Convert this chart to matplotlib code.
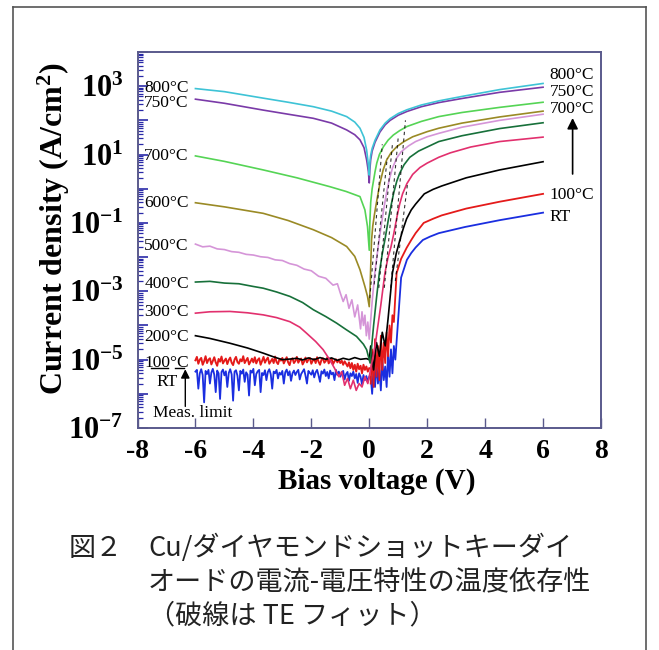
import numpy as np
import matplotlib
matplotlib.use('Agg')
import matplotlib.pyplot as plt
from matplotlib.lines import Line2D

plt.rcParams['font.family'] = ['Liberation Serif', 'DejaVu Serif']
plt.rcParams['mathtext.fontset'] = 'custom'
plt.rcParams['mathtext.rm'] = 'Liberation Serif'
plt.rcParams['mathtext.bf'] = 'Liberation Serif:bold'
plt.rcParams['mathtext.it'] = 'Liberation Serif:italic'
plt.rcParams['axes.unicode_minus'] = False

# ---------------- data (log10 of current density in A/cm^2) ----------------
V_800 = [-6, -5, -3.66, -2.8, -1.93, -1.3, -0.78, -0.5, -0.32, -0.18, -0.09, -0.03, 0.0,
         0.02, 0.05, 0.1, 0.2, 0.37, 0.55, 0.72, 1.0, 1.3, 1.8, 2.4, 3.2, 4.5, 6.0]
L_800 = [2.93, 2.84, 2.65, 2.53, 2.40, 2.27, 2.11, 1.95, 1.77, 1.50, 1.13, 0.70, 0.40,
         0.75, 0.98, 1.18, 1.42, 1.72, 1.92, 2.05, 2.20, 2.31, 2.45, 2.57, 2.70, 2.90, 3.08]
V_750 = V_800
L_750 = [2.62, 2.50, 2.30, 2.18, 2.06, 1.92, 1.72, 1.58, 1.43, 1.20, 0.84, 0.50, 0.17,
         0.55, 0.85, 1.10, 1.36, 1.66, 1.87, 2.00, 2.15, 2.26, 2.40, 2.52, 2.64, 2.82, 2.97]
V_700 = [-6, -5, -3.66, -2.5, -1.36, -0.8, -0.32, -0.15, -0.06, 0.0,
         0.02, 0.05, 0.1, 0.14, 0.2, 0.26, 0.35, 0.49, 0.65, 0.83, 1.05, 1.3, 1.8, 2.4, 3.2,
         4.5, 6.0]
L_700 = [0.96, 0.80, 0.55, 0.32, 0.06, -0.08, -0.23, -0.62, -1.11, -1.80,
         -1.00, -0.40, 0.00, 0.20, 0.50, 0.75, 1.00, 1.23, 1.42, 1.57, 1.70, 1.82, 1.97, 2.11,
         2.23, 2.38, 2.53]
V_600 = [-6, -5, -3.66, -2.8, -1.93, -1.3, -0.78, -0.5, -0.32, -0.15, -0.06, 0.0,
         0.03, 0.06, 0.08, 0.12, 0.18, 0.26, 0.37, 0.48, 0.6, 0.75, 0.95, 1.2, 1.5, 2.0, 2.4,
         3.2, 4.5, 6.0]
L_600 = [-0.41, -0.53, -0.72, -0.93, -1.20, -1.43, -1.69, -1.98, -2.37, -2.86, -3.15, -3.45,
         -2.90, -2.00, -1.50, -1.10, -0.75, -0.35, 0.16, 0.55, 0.84, 1.05, 1.23, 1.38, 1.52,
         1.67, 1.77, 1.92, 2.10, 2.27]
V_500 = [-6, -5.75, -5.5, -5.25, -5, -4.75, -4.5, -4.25, -4, -3.75, -3.5, -3.25, -3, -2.75,
         -2.5, -2.25, -2, -1.75, -1.5, -1.25, -1.1, -1.0, -0.9, -0.8, -0.7, -0.6, -0.5, -0.4,
         -0.3, -0.25, -0.2, -0.15, -0.1, -0.05, 0.0,
         0.1, 0.2, 0.3, 0.4, 0.5, 0.6, 0.7, 0.8, 0.95, 1.1, 1.35, 1.6, 2.0, 2.4, 3.2, 4.5, 6.0]
L_500 = [-1.62, -1.70, -1.68, -1.76, -1.78, -1.84, -1.86, -1.92, -1.94, -1.99, -2.01, -2.08,
         -2.10, -2.19, -2.24, -2.35, -2.40, -2.56, -2.62, -2.82, -2.78, -3.05, -3.30, -3.10,
         -3.50, -3.25, -3.75, -3.40, -4.10, -3.60, -4.00, -3.70, -4.30, -3.90, -4.40,
         -3.30, -2.40, -1.75, -1.15, -0.60, -0.10, 0.30, 0.60, 0.90, 1.08, 1.25, 1.38, 1.52,
         1.62, 1.80, 2.00, 2.18]
V_400 = [-6, -5.5, -5, -4.5, -4, -3.66, -3.2, -2.74, -2.3, -1.93, -1.5, -1.13, -0.8, -0.44,
         -0.2, -0.09, 0.03, 0.15, 0.25, 0.35, 0.45, 0.55, 0.65, 0.75, 0.85, 0.95, 1.05, 1.2,
         1.4, 1.7, 2.0, 2.4, 3.2, 4.5, 6.0]
L_400 = [-2.73, -2.71, -2.76, -2.78, -2.86, -2.91, -3.02, -3.15, -3.33, -3.54, -3.74, -3.93,
         -4.12, -4.32, -4.55, -4.71, -5.10, -4.00, -3.20, -2.45, -1.90, -1.45, -0.95, -0.50,
         -0.10, 0.22, 0.45, 0.70, 0.92, 1.10, 1.22, 1.38, 1.55, 1.76, 1.93]
V_300 = [-6, -5.5, -4.81, -4.2, -3.66, -3.2, -2.74, -2.4, -2.16, -1.85, -1.59, -1.36, -1.2,
         -1.05, -0.95, -0.85, -0.75, -0.65, -0.55, -0.45, -0.35, -0.25, -0.15, -0.05, 0.0,
         0.2, 0.4, 0.54, 0.65, 0.75, 0.85, 0.95, 1.05, 1.15, 1.3, 1.5, 1.75, 2.0, 2.4, 2.8,
         3.5, 4.5, 6.0]
L_300 = [-3.64, -3.60, -3.59, -3.63, -3.69, -3.77, -3.89, -4.05, -4.23, -4.47, -4.71, -5.01,
         -5.25, -5.50, -5.35, -5.75, -5.55, -5.85, -5.60, -5.90, -5.70, -5.80, -5.50, -5.70,
         -5.50, -4.60, -3.40, -2.47, -2.00, -1.70, -1.30, -0.85, -0.45, -0.15, 0.15, 0.42,
         0.62, 0.75, 0.92, 1.05, 1.22, 1.38, 1.51]
V_200 = [-6, -5.5, -4.81, -4.2, -3.66, -3.3, -3.0, -2.7, -2.5, -2.3, -2.1, -1.9, -1.7, -1.5,
         -1.3, -1.1, -0.9, -0.7, -0.5, -0.3, -0.1, 0.0, 0.05, 0.15, 0.25, 0.35, 0.45, 0.55,
         0.65, 0.8, 0.93, 1.06, 1.18, 1.29, 1.45, 1.6, 1.9, 2.2, 2.5, 3.35, 4.5, 6.0]
L_200 = [-4.30, -4.38, -4.52, -4.66, -4.81, -4.92, -5.00, -4.98, -4.96, -5.01, -4.95, -5.00,
         -4.94, -4.99, -4.95, -5.02, -4.96, -5.00, -4.94, -4.99, -4.97, -5.00, -4.60, -5.30,
         -4.50, -4.90, -4.20, -4.60, -3.80, -2.47, -1.90, -1.49, -1.15, -0.88, -0.62, -0.45,
         -0.15, -0.02, 0.08, 0.32, 0.55, 0.79]

# 100 C and RT: reverse-bias sweep (at the noise floor), then forward bias
L_100_rev = [-5.02, -4.92, -5.12, -5.00, -4.95, -5.15, -5.05, -4.90, -5.10, -5.00,
             -4.96, -5.14, -5.04, -4.93, -5.08, -5.18, -4.98, -5.06, -4.91, -5.11,
             -5.03, -4.97, -5.13, -5.01, -4.94, -5.09, -5.16, -5.00, -4.92, -5.07,
             -5.12, -4.99, -5.05, -4.90, -5.10, -5.02, -4.95, -5.14, -5.06, -4.97,
             -5.08, -4.93, -5.11, -5.01, -4.96, -5.15, -5.04, -4.92, -5.09, -5.00,
             -4.94, -5.12, -5.05, -4.98, -5.10, -4.91, -5.07, -5.13, -4.99, -5.03,
             -4.95, -5.11, -5.02, -4.93, -5.08, -5.16, -5.00, -4.96, -5.10, -5.04,
             -4.92, -5.09, -5.01, -4.97, -5.14, -5.06, -4.94, -5.08, -5.00, -4.95,
             -5.12, -5.03, -4.98, -5.10, -4.93, -5.06, -5.15, -5.01, -4.96, -5.09,
             -5.04, -4.94, -5.11, -5.02, -4.97, -5.13, -5.05, -4.99, -5.08, -5.00,
             -5.10, -5.03, -5.15, -5.05, -5.12, -5.20, -5.08, -5.25, -5.10, -5.30,
             -5.15, -5.35, -5.12, -5.28, -5.18, -5.40, -5.15, -5.30, -5.20, -5.35, -5.25]
L_RT_rev = [-5.35, -5.30, -5.85, -5.40, -5.28, -5.45, -6.25, -5.33, -5.42, -5.30,
            -5.70, -5.38, -5.27, -5.44, -5.95, -5.32, -5.40, -6.15, -5.36, -5.29,
            -5.46, -5.34, -5.80, -5.39, -5.28, -5.43, -6.20, -5.35, -5.31, -5.47,
            -5.90, -5.33, -5.41, -5.29, -5.65, -5.37, -5.44, -6.05, -5.32, -5.38,
            -5.27, -5.75, -5.42, -5.34, -5.30, -5.95, -5.39, -5.45, -5.31, -5.60,
            -5.36, -5.28, -5.43, -5.85, -5.35, -5.40, -5.30, -5.55, -5.38, -5.44,
            -5.33, -5.70, -5.37, -5.29, -5.46, -5.34, -5.62, -5.40, -5.32, -5.45,
            -5.36, -5.30, -5.58, -5.42, -5.35, -5.28, -5.47, -5.70, -5.33, -5.39,
            -5.44, -5.31, -5.52, -5.37, -5.30, -5.46, -5.65, -5.34, -5.41, -5.29,
            -5.48, -5.36, -5.55, -5.32, -5.43, -5.38, -5.60, -5.30, -5.45, -5.35,
            -5.50, -5.40, -5.33, -5.58, -5.42, -5.36, -5.62, -5.40, -5.48, -5.35,
            -5.55, -5.42, -5.68, -5.40, -5.50, -5.72, -5.45, -5.60, -5.48, -5.65, -5.50]
V_100_rev = np.linspace(-6.0, 0.0, len(L_100_rev))
V_RT_rev = np.linspace(-6.0, 0.0, len(L_RT_rev))
V_100_fwd = [0.05, 0.1, 0.15, 0.2, 0.25, 0.3, 0.35, 0.4, 0.45, 0.5, 0.55, 0.6, 0.65, 0.7,
             0.75, 0.8, 0.85, 0.945, 1.1, 1.29, 1.45, 1.6, 1.88, 2.2, 2.5, 3.35, 4.5, 6.0]
L_100_fwd = [-5.7, -4.7, -5.8, -4.4, -5.5, -4.6, -5.6, -4.3, -5.3, -4.5, -5.1, -4.2, -4.9,
             -4.0, -4.5, -3.7, -3.9, -2.47, -2.05, -1.73, -1.50, -1.30, -1.00, -0.88, -0.78,
             -0.58, -0.38, -0.15]
V_RT_fwd = [0.05, 0.1, 0.15, 0.2, 0.25, 0.3, 0.35, 0.4, 0.45, 0.5, 0.55, 0.6, 0.65, 0.7,
            0.75, 0.8, 0.85, 0.9, 1.0, 1.1, 1.3, 1.45, 1.6, 1.85, 2.1, 2.4, 3.3, 4.5, 6.0]
L_RT_fwd = [-5.5, -6.0, -5.2, -5.8, -5.1, -5.7, -5.3, -5.9, -5.0, -5.6, -5.2, -5.8, -4.8,
            -5.5, -4.7, -5.4, -4.6, -5.0, -3.8, -2.6, -2.08, -1.88, -1.72, -1.50, -1.40,
            -1.30, -1.12, -0.92, -0.70]

# TE fits (dashed), endpoints in (V, log10 J)
fit_V = [[0.02, 0.45], [0.17, 0.62], [0.33, 0.80], [0.52, 1.00], [0.74, 1.25], [0.90, 1.33]]
fit_L = [[-3.2, 1.3], [-2.8, 0.9], [-2.9, 1.3], [-2.9, 1.5], [-2.9, 2.0], [-2.7, 0.2]]

colors = ['#3ec3d6', '#7a3aa8', '#55d455', '#9a8a25', '#d595d8', '#17703a', '#e2306e', '#000000']
c100 = '#e41a1a'
cRT = '#1a2ee0'

left_labels = ['800°C', '750°C', '700°C', '600°C', '500°C', '400°C', '300°C', '200°C', '100°C']
left_label_L = [2.96, 2.50, 0.96, -0.42, -1.67, -2.78, -3.62, -4.33, -5.09]
right_labels = ['800°C', '750°C', '700°C', '100°C', 'RT']
right_label_L = [3.33, 2.82, 2.33, -0.18, -0.82]

caption1a = '図２'
caption1b = 'Cu/ダイヤモンドショットキーダイ'
caption2 = 'オードの電流-電圧特性の温度依存性'
caption3 = '（破線は TE フィット）'

# ---------------- figure ----------------
W, H = 659, 650
fig = plt.figure(figsize=(W / 100, H / 100), dpi=100)
ax = fig.add_axes([137.5 / W, 1 - 428 / H, 463.5 / W, 376 / H])

series_V = [V_800, V_750, V_700, V_600, V_500, V_400, V_300, V_200]
series_L = [L_800, L_750, L_700, L_600, L_500, L_400, L_300, L_200]

ax.plot(V_RT_rev, 10 ** np.array(L_RT_rev), color=cRT, lw=1.3)
ax.plot(V_RT_fwd, 10 ** np.array(L_RT_fwd), color=cRT, lw=1.3)
ax.plot(V_100_rev, 10 ** np.array(L_100_rev), color=c100, lw=1.4)
ax.plot(V_100_fwd, 10 ** np.array(L_100_fwd), color=c100, lw=1.3)
for v, l, c in zip(series_V[::-1], series_L[::-1], colors[::-1]):
    ax.plot(v, 10 ** np.array(l), color=c, lw=1.2)
for v, l in zip(fit_V, fit_L):
    ax.plot(v, 10 ** np.array(l), color='k', lw=0.8, ls=(0, (3, 3)), alpha=0.8)

ax.set_xlim(-8, 8)
ax.set_yscale('log')
ax.set_ylim(1e-7, 1e4)

xt = list(range(-8, 9, 2))
ax.set_xticks(xt)
ax.set_xticklabels([str(t) for t in xt], fontsize=20, fontweight='bold')
major = [10.0 ** k for k in range(-7, 5)]
ax.yaxis.set_major_locator(matplotlib.ticker.FixedLocator(major))
ax.yaxis.set_major_formatter(matplotlib.ticker.FixedFormatter(
    [r'$\mathbf{10^{%d}}$' % k if k % 2 != 0 and k < 4 else '' for k in range(-7, 5)]))
ax.yaxis.set_minor_locator(matplotlib.ticker.LogLocator(base=10, subs=np.arange(2, 10), numticks=30))
ax.yaxis.set_minor_formatter(matplotlib.ticker.NullFormatter())
ax.tick_params(axis='x', direction='in', length=7, width=1.0, color='#5a5a8c', pad=8)
ax.tick_params(axis='y', which='major', direction='in', length=7, width=1.2, color='#2a2aa8',
               pad=10, labelsize=22)
ax.tick_params(axis='y', which='minor', direction='in', length=3.5, width=0.9, color='#2a2aa8')
for s in ax.spines.values():
    s.set_color('#5a5a8c')
    s.set_linewidth(1.4)

ax.set_xlabel('Bias voltage (V)', fontsize=21, fontweight='bold')
ax.xaxis.set_label_coords(0.517, -0.106)
ax.set_ylabel(r'Current density (A/cm$^{\mathbf{2}}$)', fontsize=23, fontweight='bold')
ax.yaxis.set_label_coords(-0.141, 0.529)

for t, l in zip(left_labels, left_label_L):
    ax.text(-6.23, 10 ** l, t, ha='right', va='center', fontsize=12.5)
ax.text(-6.62, 10 ** -5.64, 'RT', ha='right', va='center', fontsize=12.5)
for t, l in zip(right_labels, right_label_L):
    ax.text(6.22, 10 ** l, t, ha='left', va='center', fontsize=12.5)
ax.text(-7.47, 10 ** -6.56, 'Meas. limit', ha='left', va='center', fontsize=12.5)
ax.plot([-7.55, -6.95], [10 ** -5.24, 10 ** -5.24], color='k', lw=1.0)
ax.plot([-6.7, -6.4], [10 ** -5.24, 10 ** -5.24], color='k', lw=1.0)
ax.annotate('', xy=(-6.35, 10 ** -5.2), xytext=(-6.35, 10 ** -6.45),
            arrowprops=dict(arrowstyle='-|>', color='k', lw=1.0, mutation_scale=13))
ax.annotate('', xy=(7.02, 10 ** 2.15), xytext=(7.02, 10 ** 0.35),
            arrowprops=dict(arrowstyle='-|>', color='k', lw=1.2, mutation_scale=16))

# caption
cjk = ['Noto Sans CJK JP', 'DejaVu Sans']
fs = 19.5
fig.text(69 / W, 1 - 548 / H, caption1a, family=cjk, fontsize=fs, va='center', ha='left', color='#222222')
fig.text(148 / W, 1 - 548 / H, caption1b, family=cjk, fontsize=fs, va='center', ha='left', color='#222222')
fig.text(148 / W, 1 - 583 / H, caption2, family=cjk, fontsize=fs, va='center', ha='left', color='#222222')
fig.text(148 / W, 1 - 616 / H, caption3, family=cjk, fontsize=fs, va='center', ha='left', color='#222222')

# frame
for xs, ys in [([13, 13], [7, 650]), ([13, 646], [7, 7]), ([646, 646], [7, 650])]:
    fig.add_artist(Line2D([x / W for x in xs], [1 - y / H for y in ys], color='#555555', lw=1.2))

fig.savefig('out.png', dpi=100)
